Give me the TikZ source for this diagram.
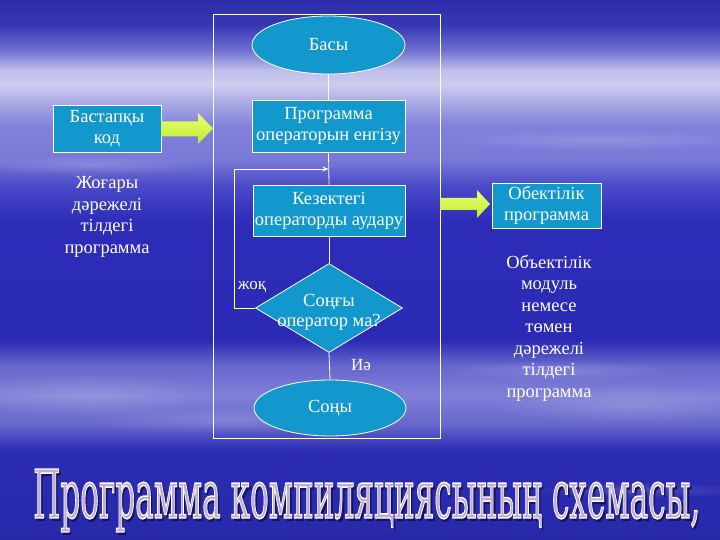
\documentclass[tikz,border=0pt]{standalone}
\usepackage{fontspec}
\setmainfont{Liberation Serif}
\newfontfamily\tnr{Liberation Serif}
\newfontfamily\dvs{DejaVu Serif}
\usetikzlibrary{shapes.geometric,fadings,arrows.meta}
\definecolor{boxfill}{RGB}{18,152,204}
\definecolor{arrowtop}{RGB}{235,255,120}
\definecolor{arrowbot}{RGB}{190,235,40}
\definecolor{titlefill}{RGB}{190,170,215}
\definecolor{shadowc}{RGB}{20,20,90}
\pgfdeclareverticalshading{bgshade}{100bp}{%
rgb(0bp)=(0.157,0.157,0.667);
rgb(25bp)=(0.157,0.157,0.667);
rgb(33.33bp)=(0.176,0.176,0.706);
rgb(35.65bp)=(0.40,0.40,0.80);
rgb(38.43bp)=(0.50,0.50,0.85);
rgb(41.20bp)=(0.40,0.40,0.80);
rgb(43.52bp)=(0.165,0.165,0.706);
rgb(54.63bp)=(0.176,0.176,0.725);
rgb(57.87bp)=(0.294,0.294,0.784);
rgb(60.19bp)=(0.471,0.471,0.843);
rgb(63.43bp)=(0.51,0.51,0.863);
rgb(65.74bp)=(0.686,0.686,0.902);
rgb(67.13bp)=(0.804,0.804,0.941);
rgb(68.52bp)=(0.745,0.745,0.922);
rgb(70.37bp)=(0.431,0.431,0.824);
rgb(72.69bp)=(0.216,0.216,0.706);
rgb(75bp)=(0.176,0.176,0.667);
rgb(100bp)=(0.176,0.176,0.667)}
\tikzfading[name=fuzzy, inner color=transparent!0, outer color=transparent!100]
\newcommand\titlewords{\resizebox{667pt}{49pt}{\dvs\fontsize{74}{80}\selectfont Программа компиляциясының схемасы,}}
\tikzset{
  box/.style={draw=white, line width=0.8pt, fill=boxfill, text=white, align=center,
    font=\tnr\fontsize{18.5}{21}\selectfont, inner sep=0pt},
  plain/.style={text=white, align=center, font=\tnr\fontsize{18.5}{21.5}\selectfont, inner sep=0pt},
  conn/.style={draw=white, line width=0.8pt},
  cloud/.style={fill=white, fill opacity=0.16, path fading=fuzzy},
  blockarrow/.style={top color=arrowtop, bottom color=arrowbot, draw=none}
}
\begin{document}
\begin{tikzpicture}[x=1pt,y=-1pt]
\useasboundingbox (0,0) rectangle (720,540);
% background
\shade[shading=bgshade] (0,0) rectangle (720,540);
\fill[cloud] (90,395) ellipse (130 and 22);
\fill[cloud] (230,420) ellipse (150 and 14);
\fill[cloud] (630,405) ellipse (140 and 20);
\fill[cloud] (560,370) ellipse (120 and 10);
\fill[cloud] (90,165) ellipse (120 and 10);
\fill[cloud] (600,140) ellipse (160 and 10);
\fill[cloud] (640,490) ellipse (110 and 8);
% frame
\draw[conn] (213,14) rectangle (440,438);
% main flow
\node[box, ellipse, minimum width=153pt, minimum height=58pt] (start) at (328.5,45) {Басы};
\node[box, rectangle, minimum width=153pt, minimum height=52pt] (prog) at (328.5,126) {Программа\\операторын енгізу};
\node[box, rectangle, minimum width=152pt, minimum height=51pt] (next) at (329,210.5) {Кезектегі\\операторды аудару};
\node[box, diamond, minimum width=147pt, minimum height=89pt] (dec) at (329,308) {};
\node[plain, font=\tnr\fontsize{18.5}{20}\selectfont] (dectext) at (329,312) {Соңғы\\оператор ма?};
\node[box, ellipse, minimum width=152pt, minimum height=56pt] (end) at (330,408) {Соңы};
\coordinate (join) at (328.5,169);
\draw[conn] (start.south) -- (prog.north);
\draw[conn] (prog.south) -- (next.north);
\draw[conn] (next.south) -- (dec.north);
\draw[conn] (dec.south) -- (end.north);
\draw[conn, -{Stealth[length=6pt,width=5pt]}] (dec.west) -- ++(-21,0) |- (join);
\node[plain, font=\tnr\fontsize{17}{18}\selectfont] (no) at (252,287) {жоқ};
\node[plain, font=\tnr\fontsize{17}{18}\selectfont] (yes) at (361,365) {Иә};
% left side
\node[box, rectangle, minimum width=108pt, minimum height=47pt] (src) at (107,128.5) {Бастапқы\\код};
\node[plain] (hl) at (107,217) {Жоғары\\дәрежелі\\тілдегі\\программа};
\shade[blockarrow] (161,121.5) -- (198,121.5) -- (198,113) -- (213,128.5) -- (198,144) -- (198,136.5) -- (161,136.5) -- cycle;
% right side
\node[box, rectangle, minimum width=109pt, minimum height=45pt] (obj) at (546.5,205.5) {Обектілік\\программа};
\node[plain] (ll) at (549,328) {Объектілік\\модуль\\немесе\\төмен\\дәрежелі\\тілдегі\\программа};
\shade[blockarrow] (440,198) -- (477,198) -- (477,190) -- (490,204) -- (477,218) -- (477,210) -- (440,210) -- cycle;
% title
\node[anchor=base west, inner sep=0pt, text=shadowc] (tshadow) at (35.5,521) {\titlewords};
\node[anchor=base west, inner sep=0pt, text=titlefill] (title) at (33,518)
  {\special{pdf:literal direct 1 1 1 RG 1.6 w 2 Tr}\titlewords\special{pdf:literal direct 0 Tr}};
\end{tikzpicture}
\end{document}
